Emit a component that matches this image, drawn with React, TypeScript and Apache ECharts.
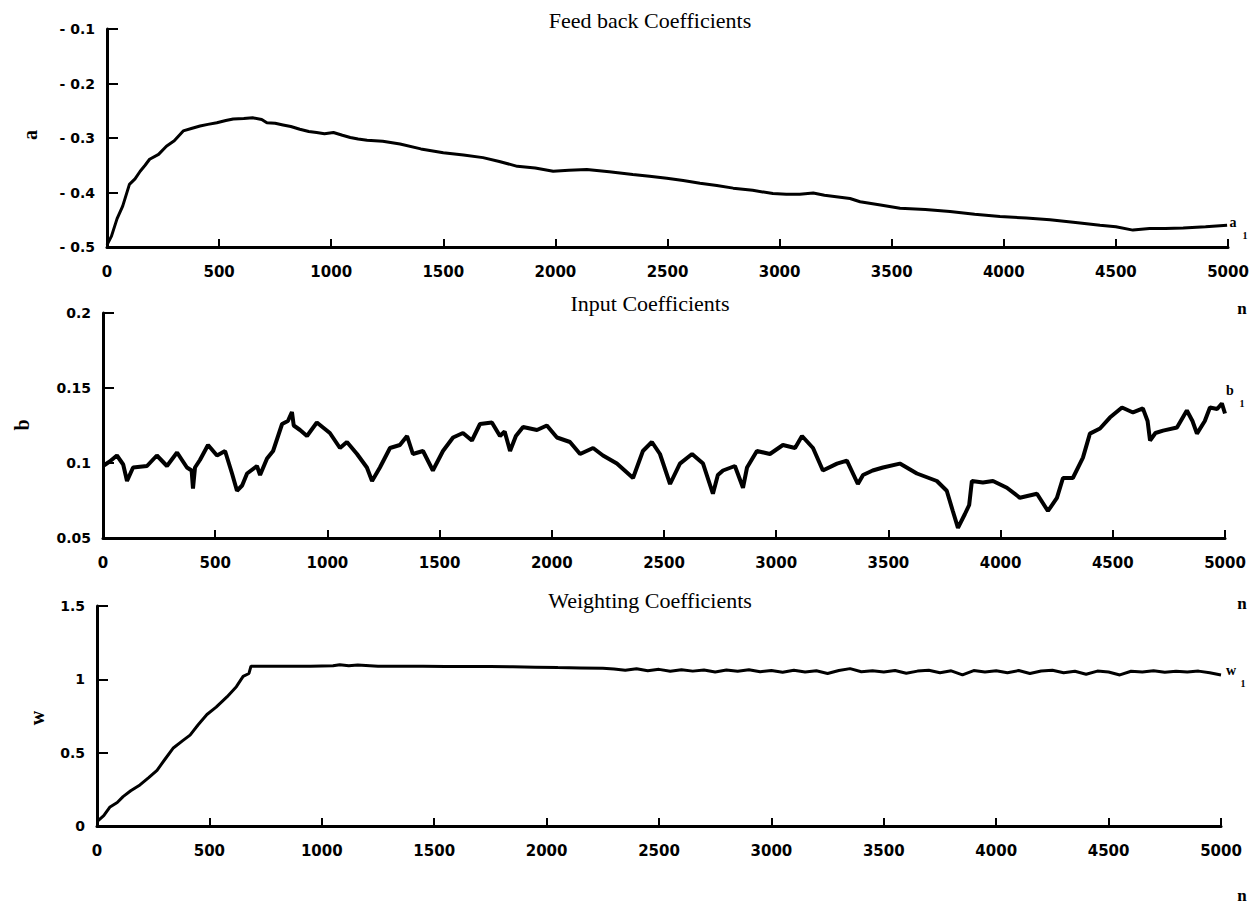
import React, { useEffect, useRef } from "react";
import * as echarts from "echarts";

// ---- Feed back coefficients (a1) ----
const aN = [0, 20, 45, 70, 100, 125, 148, 170, 190, 230, 265, 300, 340, 380, 415, 450, 490, 530, 563, 610, 650, 690, 713, 750, 785, 820, 860, 900, 935, 970, 1010, 1050, 1085, 1120, 1160, 1230, 1307, 1400, 1500, 1590, 1677, 1750, 1830, 1910, 1990, 2060, 2140, 2240, 2345, 2420, 2497, 2570, 2645, 2720, 2793, 2880, 2970, 3030, 3090, 3150, 3200, 3314, 3359, 3450, 3537, 3650, 3760, 3870, 3983, 4100, 4206, 4320, 4429, 4500, 4576, 4650, 4720, 4800, 4900, 4996];
const aVals = [-0.496, -0.48, -0.448, -0.425, -0.385, -0.375, -0.361, -0.35, -0.339, -0.33, -0.315, -0.305, -0.287, -0.282, -0.278, -0.275, -0.272, -0.268, -0.265, -0.264, -0.263, -0.266, -0.272, -0.273, -0.276, -0.279, -0.284, -0.288, -0.29, -0.292, -0.29, -0.295, -0.299, -0.302, -0.304, -0.306, -0.311, -0.32, -0.327, -0.331, -0.336, -0.343, -0.352, -0.355, -0.361, -0.359, -0.358, -0.362, -0.367, -0.37, -0.374, -0.378, -0.383, -0.387, -0.392, -0.396, -0.402, -0.403, -0.403, -0.401, -0.405, -0.411, -0.417, -0.423, -0.429, -0.431, -0.435, -0.44, -0.444, -0.447, -0.45, -0.455, -0.46, -0.463, -0.469, -0.466, -0.466, -0.465, -0.463, -0.46];

// ---- Input coefficients (b1) ----
const bN = [0, 30, 62, 90, 107, 134, 196, 240, 285, 330, 374, 395, 401, 410, 432, 468, 508, 544, 575, 597, 620, 642, 686, 700, 731, 758, 798, 824, 842, 850, 878, 909, 953, 1011, 1056, 1087, 1132, 1176, 1199, 1234, 1279, 1323, 1355, 1381, 1426, 1470, 1515, 1560, 1604, 1644, 1680, 1733, 1769, 1790, 1814, 1840, 1872, 1934, 1978, 2023, 2081, 2126, 2184, 2228, 2290, 2362, 2406, 2446, 2482, 2527, 2571, 2625, 2674, 2718, 2740, 2763, 2816, 2852, 2870, 2914, 2972, 3030, 3084, 3115, 3164, 3208, 3271, 3315, 3364, 3387, 3430, 3476, 3551, 3627, 3716, 3760, 3787, 3810, 3841, 3860, 3872, 3921, 3966, 4028, 4086, 4162, 4211, 4251, 4278, 4322, 4367, 4398, 4443, 4487, 4541, 4590, 4634, 4655, 4666, 4690, 4724, 4786, 4830, 4855, 4875, 4910, 4933, 4965, 4986, 5000];
const bVals = [0.098, 0.101, 0.105, 0.099, 0.088, 0.097, 0.098, 0.105, 0.098, 0.107, 0.097, 0.095, 0.083, 0.097, 0.102, 0.112, 0.105, 0.108, 0.093, 0.0815, 0.085, 0.093, 0.098, 0.092, 0.103, 0.108, 0.126, 0.128, 0.134, 0.125, 0.122, 0.118, 0.127, 0.12, 0.11, 0.114, 0.106, 0.097, 0.088, 0.097, 0.11, 0.112, 0.118, 0.106, 0.108, 0.095, 0.108, 0.117, 0.12, 0.115, 0.126, 0.127, 0.118, 0.121, 0.108, 0.118, 0.124, 0.122, 0.125, 0.117, 0.114, 0.106, 0.11, 0.105, 0.0996, 0.09, 0.108, 0.114, 0.106, 0.086, 0.0996, 0.106, 0.0996, 0.0795, 0.092, 0.095, 0.098, 0.0835, 0.097, 0.108, 0.106, 0.112, 0.11, 0.118, 0.11, 0.095, 0.0996, 0.1016, 0.086, 0.092, 0.095, 0.097, 0.0996, 0.093, 0.088, 0.0815, 0.068, 0.0567, 0.066, 0.072, 0.088, 0.087, 0.088, 0.0835, 0.0768, 0.0795, 0.068, 0.0768, 0.09, 0.09, 0.1036, 0.1196, 0.123, 0.1303, 0.137, 0.1337, 0.1364, 0.128, 0.115, 0.12, 0.1216, 0.1237, 0.135, 0.128, 0.1196, 0.128, 0.137, 0.136, 0.1397, 0.133];

// ---- Weighting coefficients (w1) ----
const wN = [0, 30, 58, 90, 116, 150, 191, 230, 267, 300, 338, 380, 414, 450, 489, 530, 578, 620, 650, 676, 685, 750, 850, 950, 1050, 1080, 1120, 1160, 1250, 1350, 1450, 1550, 1650, 1750, 1850, 1950, 2050, 2150, 2250, 2300, 2350, 2400, 2450, 2500, 2550, 2600, 2650, 2700, 2750, 2800, 2850, 2900, 2950, 3000, 3050, 3100, 3150, 3200, 3250, 3300, 3350, 3400, 3450, 3500, 3550, 3600, 3650, 3700, 3750, 3800, 3850, 3900, 3950, 4000, 4050, 4100, 4150, 4200, 4250, 4300, 4350, 4400, 4450, 4500, 4550, 4600, 4650, 4700, 4750, 4800, 4850, 4900, 4950, 5000];
const wVals = [0.03, 0.07, 0.13, 0.16, 0.2, 0.24, 0.28, 0.33, 0.38, 0.45, 0.53, 0.58, 0.62, 0.69, 0.76, 0.81, 0.88, 0.95, 1.02, 1.04, 1.09, 1.09, 1.09, 1.09, 1.092, 1.1, 1.093, 1.098, 1.09, 1.09, 1.09, 1.088, 1.088, 1.087, 1.085, 1.083, 1.08, 1.078, 1.075, 1.07, 1.062, 1.072, 1.058, 1.068, 1.055, 1.066, 1.056, 1.064, 1.05, 1.063, 1.055, 1.066, 1.052, 1.06, 1.048, 1.062, 1.05, 1.058, 1.04, 1.06, 1.073, 1.052, 1.058, 1.05, 1.06, 1.042, 1.056, 1.062, 1.045, 1.058, 1.03, 1.06, 1.05, 1.058, 1.045, 1.06, 1.04, 1.057, 1.062, 1.045, 1.055, 1.035, 1.056, 1.05, 1.03, 1.055, 1.05, 1.058, 1.048, 1.055, 1.05, 1.056, 1.045, 1.03];

const titles = ["Feed back Coefficients", "Input Coefficients", "Weighting Coefficients"];
const yNames = ["a", "b", "w"];
const yMins = [-0.5, 0.05, 0];
const yMaxs = [-0.1, 0.2, 1.5];
const yIntervals = [0.1, 0.05, 0.5];

export default function App() {
  const ref = useRef<HTMLDivElement>(null);
  useEffect(() => {
    if (!ref.current) return;
    const chart = echarts.init(ref.current, null, { renderer: "svg" });
    const grids = [
      { left: 107, top: 29, width: 1121, height: 218 },
      { left: 103, top: 313, width: 1122, height: 225 },
      { left: 97, top: 606, width: 1124, height: 220 },
    ];
    const labelFont = { color: "#000", fontFamily: "DejaVu Sans", fontWeight: "bold" as const };
    const xAxis = grids.map((_, i) => ({
      gridIndex: i,
      type: "value",
      min: 0,
      max: 5000,
      interval: 500,
      axisLine: { show: true, lineStyle: { color: "#000", width: 3 } },
      axisTick: { show: true, inside: true, length: 8, lineStyle: { color: "#000", width: 2 } },
      axisLabel: { ...labelFont, fontSize: 15, margin: 17, formatter: (v: number) => String(v) },
      splitLine: { show: false },
    }));
    const fmt = [
      (v: number) => "- " + Math.abs(v).toFixed(1),
      (v: number) => String(+v.toFixed(2)),
      (v: number) => String(+v.toFixed(1)),
    ];
    const yAxis = grids.map((_, i) => ({
      gridIndex: i,
      type: "value",
      min: yMins[i],
      max: yMaxs[i],
      interval: yIntervals[i],
      axisLine: { show: true, lineStyle: { color: "#000", width: 3 } },
      axisTick: { show: true, inside: true, length: 11, lineStyle: { color: "#000", width: 2 } },
      axisLabel: { ...labelFont, fontSize: 14, margin: 12, formatter: fmt[i] },
      splitLine: { show: false },
    }));
    const datasets = [
      aN.map((n, k) => [n, aVals[k]]),
      bN.map((n, k) => [n, bVals[k]]),
      wN.map((n, k) => [n, wVals[k]]),
    ];
    const series = datasets.map((d, i) => ({
      type: "line",
      xAxisIndex: i,
      yAxisIndex: i,
      data: d,
      showSymbol: false,
      lineStyle: { color: "#000", width: i === 1 ? 4 : 3 },
    }));
    const serif = '"Liberation Serif", serif';
    const titleY = [20, 303, 600];
    const nameXY = [[30, 135], [22, 425], [37, 718]];
    const subXY = [[1233, 222], [1230, 390], [1231, 670]];
    const nY = [308, 603, 895];
    const graphic: any[] = [];
    titles.forEach((t, i) => {
      graphic.push({
        type: "text",
        x: 650,
        y: titleY[i],
        style: { text: t, font: `22px ${serif}`, fill: "#000", align: "center", verticalAlign: "middle" },
      });
      graphic.push({
        type: "text",
        x: nameXY[i][0],
        y: nameXY[i][1],
        rotation: Math.PI / 2,
        style: { text: yNames[i], font: `bold 20px ${serif}`, fill: "#000", align: "center", verticalAlign: "middle" },
      });
      graphic.push({
        type: "text",
        x: subXY[i][0],
        y: subXY[i][1],
        style: { text: yNames[i], font: `bold 14px ${serif}`, fill: "#000", align: "center", verticalAlign: "middle" },
      });
      graphic.push({
        type: "text",
        x: subXY[i][0] + 12,
        y: subXY[i][1] + 13,
        style: { text: "1", font: `bold 10px ${serif}`, fill: "#000", align: "center", verticalAlign: "middle" },
      });
      graphic.push({
        type: "text",
        x: 1242,
        y: nY[i],
        style: { text: "n", font: `bold 17px ${serif}`, fill: "#000", align: "center", verticalAlign: "middle" },
      });
    });
    chart.setOption({
      animation: false,
      backgroundColor: "#fff",
      grid: grids,
      xAxis,
      yAxis,
      series,
      graphic,
    });
    return () => chart.dispose();
  }, []);
  return (
    <div
      ref={ref}
      style={{ position: "absolute", left: 0, top: 0, width: 1254, height: 905 }}
    />
  );
}
